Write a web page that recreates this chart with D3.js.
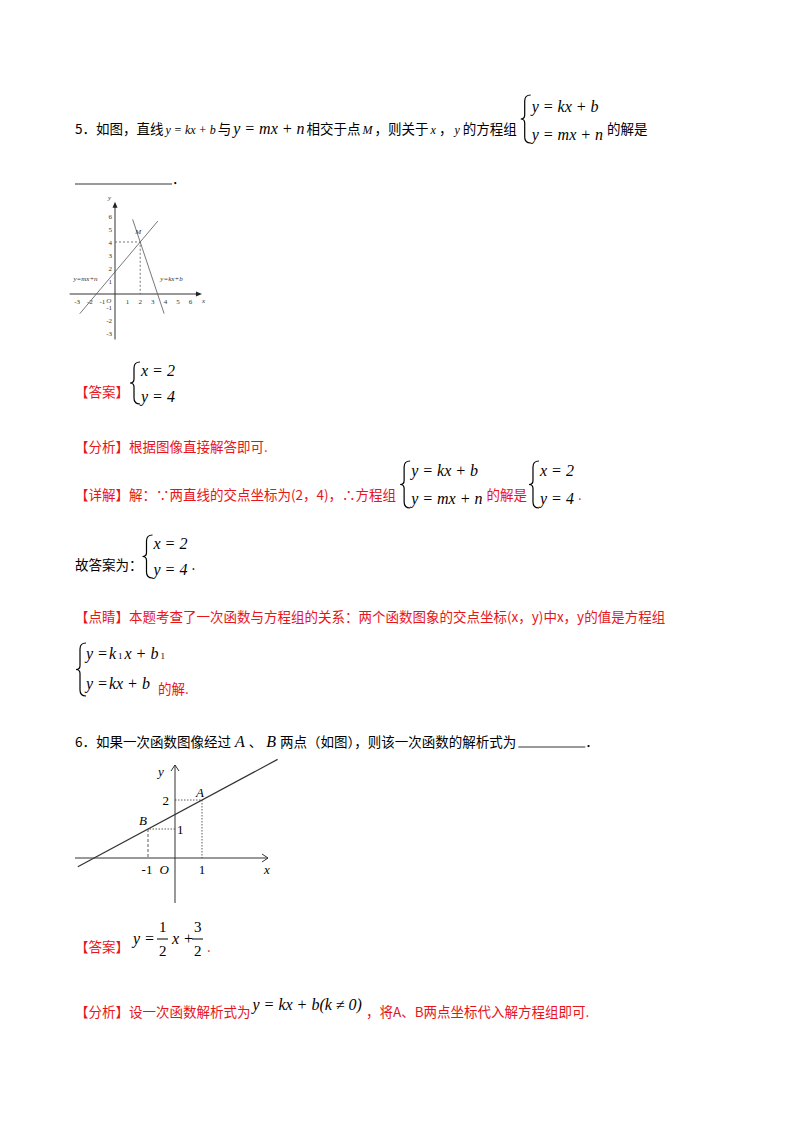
<!DOCTYPE html><html><head><meta charset="utf-8"><script src="https://cdn.jsdelivr.net/npm/d3@7"></script>
<style>body{margin:0;background:#fff}</style></head><body><svg id="s" width="800" height="1132"></svg>
<script>
// Graph 1 data
const g1XTicks=[-3,-2,-1,1,2,3,4,5,6];
const g1YTicks=[-3,-2,-1,1,2,3,4,5,6];
const g1LineMN=[[-2.8,-1.52],[3.4,5.61]];   // y=mx+n
const g1LineKB=[[1.4,5.74],[3.9,-1.51]];    // y=kx+b
const g1M=[2,4];
// Graph 2 data
const g2LineAB=[[-3.6,-0.3],[3.8,3.4]];
const g2A=[1,2], g2B=[-1,1];

const svg=d3.select("#s");
const CJK="'Noto Sans CJK SC',sans-serif", SER="'Liberation Serif',serif";
const RED="#e8141b";
function t(x,y,str,o={}){return svg.append("text").attr("x",x).attr("y",y).text(str)
 .attr("font-family",o.f||CJK).attr("font-size",o.s||13.5).attr("fill",o.c||"#000")
 .attr("font-style",o.i?"italic":null).attr("text-anchor",o.a||null);}
function m(x,y,str,o={}){return t(x,y,str,Object.assign({f:SER,s:16,i:true},o));}
function w(el){return el.node().getComputedTextLength();}
// sequential: items are [type,str,opts] ; returns end x
function seq(x,y,items){items.forEach(it=>{const [ty,s,o]=it;const el=(ty==="m"?m:t)(x,y,s,o||{});x+=w(el)+((o&&o.gap)||2);});return x;}
function brace(x,y1,y2){const mid=(y1+y2)/2;
 svg.append("path").attr("d",`M${x+6},${y1} Q${x},${y1} ${x},${y1+6} L${x},${mid-4} Q${x},${mid} ${x-4},${mid} Q${x},${mid} ${x},${mid+4} L${x},${y2-6} Q${x},${y2} ${x+6},${y2}`)
 .attr("fill","none").attr("stroke","#000").attr("stroke-width",1.2);}
function sys(x,y1,y2,a,b,yb1,yb2){brace(x,yb1,yb2);const e1=m(x+7,y1,a),e2=m(x+7,y2,b);return x+7+Math.max(w(e1),w(e2))+4;}

// Q5
let X=seq(75,134,[["t","5．如图，直线"],["m","y = kx + b",{s:12}],["t","与"],["m","y = mx + n"],["t","相交于点"],["m","M",{s:12}],["t","，则关于"],["m","x",{s:12,gap:3}],["t","，"],["m","y",{s:12,gap:3}],["t","的方程组"]]);
X=sys(X+6,112,140,"y = kx + b","y = mx + n",95,143);
t(X,134,"的解是");
svg.append("line").attr("x1",75).attr("x2",172).attr("y1",184).attr("y2",184).attr("stroke","#000").attr("stroke-width",0.8);
t(172,184,"．");

// Graph 1
{const x=d3.scaleLinear().domain([0,1]).range([115,127.6]);
 const y=d3.scaleLinear().domain([0,1]).range([294,281]);
 const g=svg.append("g").attr("stroke","#555").attr("fill","none");
 g.append("line").attr("x1",x(-3.6)).attr("x2",x(6.7)).attr("y1",y(0)).attr("y2",y(0)).attr("stroke","#333");
 g.append("line").attr("x1",x(0)).attr("x2",x(0)).attr("y1",y(-3.5)).attr("y2",y(6.8)).attr("stroke","#333");
 svg.append("path").attr("d",`M${x(6.9)},${y(0)} l-6,-2.5 l0,5z`).attr("fill","#222");
 svg.append("path").attr("d",`M${x(0)},${y(7.1)} l-2.5,6 l5,0z`).attr("fill","#222");
 const L=d3.line().x(d=>x(d[0])).y(d=>y(d[1]));
 g.append("path").attr("d",L(g1LineMN)).attr("stroke-width",0.8);
 g.append("path").attr("d",L(g1LineKB)).attr("stroke-width",0.8);
 g.append("path").attr("d",L([[0,g1M[1]],g1M,[g1M[0],0]])).attr("stroke-dasharray","2,2").attr("stroke-width",0.8);
 const f={f:SER,s:7,c:"#333"};
 g1XTicks.forEach(v=>t(x(v),y(0)+10,v,Object.assign({a:"middle"},f)));
 g1YTicks.forEach(v=>t(x(0)-3,y(v)+2.5,v,Object.assign({a:"end"},f)));
 t(x(-0.5),y(0)+9,"O",Object.assign({i:true,a:"middle"},f));
 t(x(6.9),y(0)+9,"x",Object.assign({i:true},f));
 t(x(0)-7,y(7.2),"y",Object.assign({i:true},f));
 t(x(1.6),y(4.6),"M",Object.assign({i:true},f));
 t(x(-3.3),y(1),"y=mx+n",Object.assign({i:true,s:6},f));
 t(x(3.6),y(1),"y=kx+b",Object.assign({i:true,s:6},f));
}

// 答案
t(75,397,"【答案】",{c:RED});
sys(134,376,402,"x = 2","y = 4",362,404);
t(75,452,"【分析】根据图像直接解答即可.",{c:RED});
X=seq(75,500,[["t","【详解】解：∵两直线的交点坐标为(2，4)，∴方程组",{c:RED}]]);
X=sys(X+6,476,504,"y = kx + b","y = mx + n",461,508);
X=seq(X,500,[["t","的解是",{c:RED,gap:6}]]);
X=sys(X,476,504,"x = 2","y = 4",461,508);
t(X,500,".",{c:RED});
X=seq(75,570,[["t","故答案为：",{gap:4}]]);
X=sys(X,549,575,"x = 2","y = 4",535,578);
t(X,570,".");
t(75,622,"【点睛】本题考查了一次函数与方程组的关系：两个函数图象的交点坐标(x，y)中x，y的值是方程组",{c:RED});
brace(80,643,696);
seq(86,659,[["m","y =",{gap:1}],["m","k",{gap:0}],["m","1",{s:9,i:false,gap:2}],["m","x + b",{gap:0}],["m","1",{s:9,i:false}]]);
X=seq(86,689,[["m","y =",{gap:1}],["m","kx + b",{gap:8}]]);
t(X,694,"的解.",{c:RED});

// Q6
X=seq(75,747,[["t","6．如果一次函数图像经过",{gap:4}],["m","A",{gap:4}],["t","、",{gap:4}],["m","B",{gap:4}],["t","两点（如图），则该一次函数的解析式为"]]);
svg.append("line").attr("x1",X).attr("x2",X+67).attr("y1",747).attr("y2",747).attr("stroke","#000").attr("stroke-width",0.8);
t(X+67,747,"．");

// Graph 2
{const x=d3.scaleLinear().domain([0,1]).range([175,202]);
 const y=d3.scaleLinear().domain([0,1]).range([858,829]);
 const g=svg.append("g").attr("fill","none").attr("stroke","#333");
 g.append("line").attr("x1",75).attr("x2",268).attr("y1",y(0)).attr("y2",y(0));
 g.append("line").attr("x1",x(0)).attr("x2",x(0)).attr("y1",903).attr("y2",765);
 g.append("path").attr("d",`M${262},${y(0)-4} L268,${y(0)} L${262},${y(0)+4}`);
 g.append("path").attr("d",`M${x(0)-4},771 L${x(0)},765 L${x(0)+4},771`);
 const L=d3.line().x(d=>x(d[0])).y(d=>y(d[1]));
 g.append("path").attr("d",L(g2LineAB)).attr("stroke-width",1.2);
 g.append("path").attr("d",L([[0,g2A[1]],g2A,[g2A[0],0]])).attr("stroke-dasharray","1.5,1.5").attr("stroke-width",0.8);
 g.append("path").attr("d",L([[0,g2B[1]],g2B])).attr("stroke-dasharray","1.5,1.5").attr("stroke-width",0.8);
 g.append("path").attr("d",L([g2B,[g2B[0],0]])).attr("stroke-dasharray","3,2").attr("stroke-width",0.8);
 const f={f:SER,s:13};
 t(x(-1)-1,y(0)+16,"-1",Object.assign({a:"middle"},f));
 t(x(1),y(0)+16,"1",Object.assign({a:"middle"},f));
 t(x(-0.4),y(0)+16,"O",Object.assign({a:"middle",i:true},f));
 t(264,y(0)+16,"x",Object.assign({i:true},f));
 t(x(0)-17,776,"y",Object.assign({i:true},f));
 t(x(0)-6,y(2)+5,"2",Object.assign({a:"end"},f));
 t(x(0)+2,y(1)+5,"1",f);
 t(x(1)-6,y(2)-3,"A",Object.assign({i:true},f));
 t(x(-1)-9,y(1)-4,"B",Object.assign({i:true},f));
}

t(75,952,"【答案】",{c:RED});
m(133,944,"y =");
m(159,932,"1",{i:false,s:15}); svg.append("line").attr("x1",157).attr("x2",168).attr("y1",939).attr("y2",939).attr("stroke","#000");
m(159,956,"2",{i:false,s:15}); m(172,944,"x +");
m(194,932,"3",{i:false,s:15}); svg.append("line").attr("x1",192).attr("x2",203).attr("y1",939).attr("y2",939).attr("stroke","#000");
m(194,956,"2",{i:false,s:15}); t(207,952,".",{c:RED});

X=seq(75,1017,[["t","【分析】设一次函数解析式为",{c:RED}]]);
X=seq(X,1010,[["m","y = kx + b(k ≠ 0)",{gap:4}]]);
t(X,1017,"，将A、B两点坐标代入解方程组即可.",{c:RED});
</script></body></html>
